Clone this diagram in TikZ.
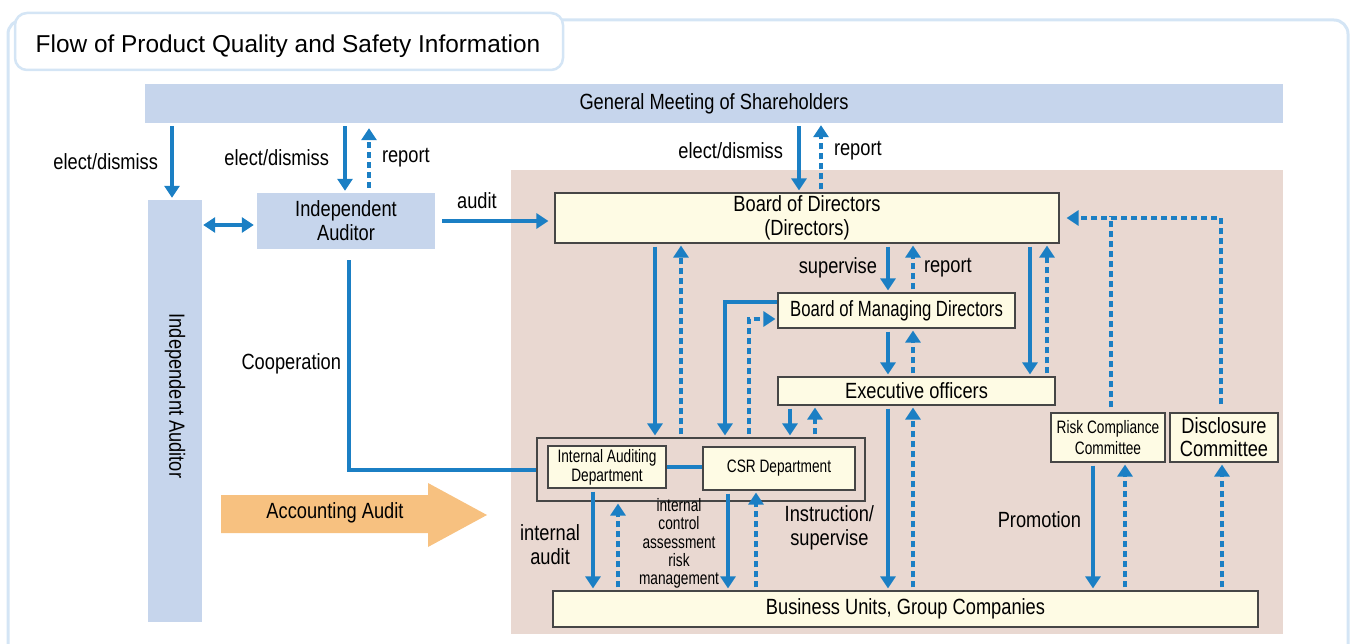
\documentclass[tikz,border=0pt]{standalone}
\usepackage{fontspec}
\usepackage{tikz}
\usetikzlibrary{positioning, arrows.meta}
\setmainfont{Liberation Sans}
\newfontfamily\narrowfont{Liberation Sans}[FakeStretch=0.83]
\newfontfamily\condfont{Liberation Sans}[FakeStretch=0.76]
\definecolor{flowblue}{RGB}{27,127,196}
\definecolor{panelblue}{RGB}{198,213,236}
\definecolor{frameblue}{RGB}{212,229,245}
\definecolor{boardbg}{RGB}{233,216,209}
\definecolor{boxfill}{RGB}{254,251,228}
\definecolor{boxline}{RGB}{70,70,70}
\definecolor{auditorange}{RGB}{247,193,128}
\tikzset{
    every node/.style = {font = \narrowfont\fontsize{22pt}{24pt}\selectfont},
    titlebox/.style = {rectangle, rounded corners = 12pt, draw = frameblue, line width = 2.5pt, fill = white,
        minimum width = 548pt, minimum height = 57pt},
    titletext/.style = {inner sep = 0pt, font = \rmfamily\fontsize{24.4pt}{28pt}\selectfont},
    panel/.style = {rectangle, fill = panelblue, inner sep = 0pt, align = center},
    board/.style = {rectangle, draw = boxline, fill = boxfill, line width = 1.2pt, inner sep = 0pt, align = center},
    smallboard/.style = {board, font = \condfont\fontsize{18pt}{19pt}\selectfont},
    groupbox/.style = {rectangle, draw = boxline, line width = 1.2pt, inner sep = 0pt},
    flow/.style = {draw = flowblue, line width = 4pt, >={Triangle[length = 12pt, width = 15pt]}, ->,
        shorten < = 3pt, shorten > = 2pt},
    reportflow/.style = {flow, dash pattern = on 6pt off 4pt},
    link/.style = {draw = flowblue, line width = 4pt},
    tag/.style = {inner sep = 2pt, align = center}
}
\begin{document}
\begin{tikzpicture}[x = 1pt, y = -1pt]
    \useasboundingbox (0,0) rectangle (1357,644);
    \draw[frameblue, line width = 3pt, rounded corners = 14pt] (8,644) |- (1348,20) -- (1348,644);
    \node[titlebox] (title) at (289,41.5) {};
    \node[titletext] (titlename) at (288,46) {Flow of Product Quality and Safety Information};
    \fill[boardbg] (511,170) rectangle (1283,634);

    % shareholders and auditors
    \node[panel, minimum width = 1138pt, minimum height = 39pt] (gm) at (714,103.5) {General Meeting of Shareholders};
    \node[panel, minimum width = 54pt, minimum height = 422pt] (iabar) at (175,411) {};
    \node[rotate = -90] (iabarname) at (175,396) {Independent Auditor};
    \node[panel, minimum width = 178pt, minimum height = 56pt] (ia) at (346,221) {Independent\\Auditor};

    % company organs
    \node[board, minimum width = 504pt, minimum height = 50pt] (bod) at (807,218) {Board of Directors\\(Directors)};
    \node[board, minimum width = 237pt, minimum height = 35pt, font = \condfont\fontsize{22pt}{24pt}\selectfont] (bmd) at (896.5,310.5) {Board of Managing Directors};
    \node[board, minimum width = 277pt, minimum height = 28pt] (eo) at (916.5,391) {Executive officers};
    \node[groupbox, minimum width = 328pt, minimum height = 63pt] (grp) at (701,469.5) {};
    \node[smallboard, minimum width = 118pt, minimum height = 42pt] (iad) at (607,467) {Internal Auditing\\Department};
    \node[smallboard, minimum width = 152pt, minimum height = 43pt] (csr) at (779,468.5) {CSR Department};
    \node[smallboard, minimum width = 114pt, minimum height = 49pt, font = \condfont\fontsize{18pt}{21pt}\selectfont] (rcc) at (1108,437.5) {Risk Compliance\\Committee};
    \node[board, minimum width = 108pt, minimum height = 49pt, font = \narrowfont\fontsize{22pt}{23pt}\selectfont] (dc) at (1224,437.5) {Disclosure\\Committee};
    \node[board, minimum width = 705pt, minimum height = 36pt] (bu) at (905.5,609) {Business Units, Group Companies};

    % accounting audit
    \fill[auditorange] (221,495) -- (428,495) -- (428,483) -- (487,515) -- (428,547) -- (428,533) -- (221,533) -- cycle;
    \node (acct) at (335,513) {Accounting Audit};

    % election and reporting
    \draw[flow] (gm.south -| 172,0) -- (iabar.north -| 172,0) node[tag, midway, left = 10pt] {elect/dismiss};
    \draw[flow] (gm.south -| 345,0) -- (ia.north -| 345,0) node[tag, midway, left = 12pt] {elect/dismiss};
    \draw[reportflow, shorten < = 5pt, shorten > = 5pt] (ia.north -| 369,0) -- (gm.south -| 369,0) node[tag, midway, right = 9pt] {report};
    \draw[flow] (gm.south -| 799,0) -- (bod.north -| 799,0) node[tag, pos = 0.39, left = 12pt] {elect/dismiss};
    \draw[reportflow] (bod.north -| 821,0) -- (gm.south -| 821,0) node[tag, pos = 0.61, right = 9pt] {report};

    % auditor relations
    \draw[flow, <->, shorten < = 1pt, shorten > = 3pt] (iabar.east |- 0,225) -- (ia.west |- 0,225);
    \draw[flow, shorten < = 7pt, shorten > = 6pt] (ia.east) -- (ia.east -| bod.west) node[tag, pos = 0.35, above = 8pt] {audit};
    \draw[link, shorten < = 11pt] (ia.south -| 349,0) |- (grp.west) node[tag, pos = 0.26, left = 4pt] {Cooperation};

    % board and executives
    \draw[flow] (bod.south -| 655,0) -- (grp.north -| 655,0);
    \draw[reportflow] (grp.north -| 681,0) -- (bod.south -| 681,0);
    \draw[flow] (bod.south -| 888,0) -- (bmd.north -| 888,0) node[tag, midway, left = 7pt] {supervise};
    \draw[reportflow] (bmd.north -| 913,0) -- (bod.south -| 913,0) node[tag, midway, right = 7pt] {report};
    \draw[flow] (bod.south -| 1030,0) -- (eo.north -| 1030,0);
    \draw[reportflow] (eo.north -| 1047,0) -- (bod.south -| 1047,0);
    \draw[flow] (bmd.south -| 888,0) -- (eo.north -| 888,0);
    \draw[reportflow] (eo.north -| 913,0) -- (bmd.south -| 913,0);
    \draw[flow, shorten < = 0pt] (bmd.west |- 0,302) -| (grp.north -| 725,0);
    \draw[reportflow] (grp.north -| 749,0) |- (bmd.west |- 0,319);
    \draw[flow] (eo.south -| 790,0) -- (grp.north -| 790,0);
    \draw[reportflow] (grp.north -| 815,0) -- (eo.south -| 815,0);

    % operations
    \draw[flow] (eo.south -| 888,0) -- (bu.north -| 888,0) node[tag, pos = 0.66, left = 10pt] {Instruction/\\supervise};
    \draw[reportflow] (bu.north -| 913,0) -- (eo.south -| 913,0);
    \draw[link] (iad.east) -- (iad.east -| csr.west);
    \draw[flow] (iad.south -| 593,0) -- (bu.north -| 593,0) node[tag, pos = 0.55, left = 9pt] {internal\\audit};
    \draw[reportflow] (bu.north -| 618,0) -- (grp.south -| 618,0);
    \node[tag, font = \condfont\fontsize{18pt}{18.3pt}\selectfont] (icrm) at (679,543.5) {internal\\control\\assessment\\risk\\management};
    \draw[flow] (csr.south -| 728,0) -- (bu.north -| 728,0);
    \draw[reportflow] (bu.north -| 756,0) -- (csr.south -| 756,0);
    \draw[flow] (rcc.south -| 1093,0) -- (bu.north -| 1093,0) node[tag, pos = 0.45, left = 8pt] {Promotion};
    \draw[reportflow] (bu.north -| 1125,0) -- (rcc.south -| 1125,0);
    \draw[reportflow] (bu.north -| 1222,0) -- (dc.south -| 1222,0);
    \coordinate (rjoin) at (1111,218);
    \draw[reportflow, -, shorten < = 5pt, shorten > = -2pt] (rcc.north -| rjoin) -- (rjoin);
    \draw[reportflow, shorten < = 8pt, shorten > = 7pt] (dc.north -| 1221,0) |- (bod.east);
\end{tikzpicture}
\end{document}
